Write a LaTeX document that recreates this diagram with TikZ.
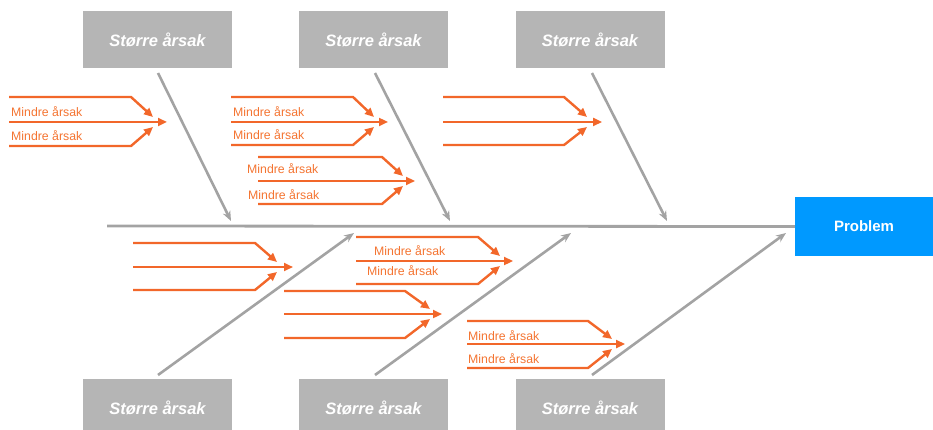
\documentclass[tikz,border=0pt]{standalone}
\usepackage{fontspec}
\setmainfont{Liberation Sans}
\usetikzlibrary{arrows.meta}
\definecolor{boxgrey}{HTML}{B5B5B5}
\definecolor{bonegrey}{HTML}{A3A3A3}
\definecolor{fishorange}{HTML}{F2672A}
\definecolor{labelorange}{HTML}{F47431}
\definecolor{problemblue}{HTML}{0099FF}
\tikzset{
  causebox/.style={fill=boxgrey, draw=none, minimum width=149pt, minimum height=57pt, inner sep=0pt,
    text=white, font=\fontsize{16.5}{18}\selectfont\bfseries\itshape},
  problembox/.style={fill=problemblue, draw=none, minimum width=138pt, minimum height=59pt, inner sep=0pt,
    text=white, font=\fontsize{15}{17}\selectfont\bfseries},
  bone/.style={draw=bonegrey, line width=2.6pt, -{Stealth[length=10pt,width=8pt]}},
  spine/.style={draw=bonegrey, line width=2.8pt},
  minor/.style={draw=fishorange, line width=2.4pt},
  minorarrow/.style={minor, -{Triangle[length=9pt,width=8pt]}},
  minorlabel/.style={anchor=base west, inner sep=0pt, text=labelorange, font=\fontsize{12.3}{14}\selectfont},
}
\newcommand\minorgroup[8]{%
  \coordinate (#1ts) at (#2,#6);
  \coordinate (#1tb) at (#3,#6);
  \coordinate (#1tt) at (#4,#7-5);
  \coordinate (#1ms) at (#2,#7);
  \coordinate (#1mt) at (#5,#7);
  \coordinate (#1bs) at (#2,#8);
  \coordinate (#1bb) at (#3,#8);
  \coordinate (#1bt) at (#4,#7+5);
  \draw[minorarrow] (#1ts) -- (#1tb) -- (#1tt);
  \draw[minorarrow] (#1ms) -- (#1mt);
  \draw[minorarrow] (#1bs) -- (#1bb) -- (#1bt);
}
\begin{document}
\begin{tikzpicture}[x=1pt,y=-1pt]
\useasboundingbox (0,0) rectangle (933,430);
% boxes
\node[causebox] (t1) at (157.5,39.5) {Større årsak};
\node[causebox] (t2) at (373.5,39.5) {Større årsak};
\node[causebox] (t3) at (590,39.5) {Større årsak};
\node[causebox] (b1) at (157.5,407.5) {Større årsak};
\node[causebox] (b2) at (373.5,407.5) {Større årsak};
\node[causebox] (b3) at (590,407.5) {Større årsak};
\node[problembox] (p) at (864,226.5) {Problem};
% spine
\coordinate (sp0) at (107,226);
\draw[spine] (sp0) -- (p.west);
% bones
\coordinate (t1s) at (158,73);  \coordinate (t1e) at (231,221);
\coordinate (t2s) at (375,73);  \coordinate (t2e) at (450,221);
\coordinate (t3s) at (592,73);  \coordinate (t3e) at (667,221);
\coordinate (b1s) at (158,375); \coordinate (b1e) at (354,233);
\coordinate (b2s) at (375,375); \coordinate (b2e) at (571,233);
\coordinate (b3s) at (592,375); \coordinate (b3e) at (786,233);
\draw[bone] (t1s) -- (t1e);
\draw[bone] (t2s) -- (t2e);
\draw[bone] (t3s) -- (t3e);
\draw[bone] (b1s) -- (b1e);
\draw[bone] (b2s) -- (b2e);
\draw[bone] (b3s) -- (b3e);
% minor causes
\minorgroup{ga}{9}{131}{153}{167}{97}{122}{146}
\minorgroup{gb}{231}{353}{374}{388}{97}{122}{145}
\minorgroup{gc}{258}{382}{403}{415}{157}{181}{204}
\minorgroup{gd}{443}{564}{587}{602}{97}{122}{145}
\minorgroup{ge}{133}{255}{277}{293}{243}{267}{290}
\minorgroup{gf}{356}{478}{500}{513}{237}{261}{284}
\minorgroup{gg}{284}{405}{430}{442}{291}{314}{338}
\minorgroup{gh}{467}{588}{612}{625}{321}{344}{368}
% labels
\node[minorlabel] (la1) at (11,117) {Mindre årsak};
\node[minorlabel] (la2) at (11,141) {Mindre årsak};
\node[minorlabel] (lb1) at (233,117) {Mindre årsak};
\node[minorlabel] (lb2) at (233,140) {Mindre årsak};
\node[minorlabel] (lc1) at (247,174) {Mindre årsak};
\node[minorlabel] (lc2) at (248,200) {Mindre årsak};
\node[minorlabel] (lf1) at (374,255) {Mindre årsak};
\node[minorlabel] (lf2) at (367,275) {Mindre årsak};
\node[minorlabel] (lh1) at (468,340) {Mindre årsak};
\node[minorlabel] (lh2) at (468,363) {Mindre årsak};
\end{tikzpicture}
\end{document}
